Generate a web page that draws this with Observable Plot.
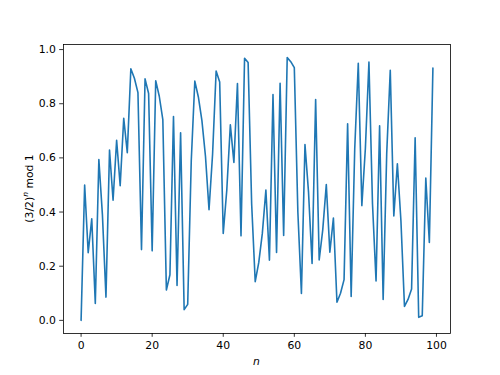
<!DOCTYPE html>
<html><head><meta charset="utf-8">
<script src="https://cdn.jsdelivr.net/npm/d3@7"></script>
<script src="https://cdn.jsdelivr.net/npm/@observablehq/plot@0.6"></script>
<style>
html,body{margin:0;padding:0;background:#fff}
#chart svg{font-family:"DejaVu Sans",sans-serif;}
</style>
</head><body><div id="chart"></div>
<script>
// (3/2)^n mod 1 for n = 0..99 (values read / checked against the picture)
const values = [
0.0000,0.5000,0.2500,0.3750,0.0625,0.5938,0.3906,0.0859,0.6289,0.4434,
0.6650,0.4976,0.7463,0.6195,0.9293,0.8939,0.8408,0.2613,0.8919,0.8378,
0.2567,0.8851,0.8276,0.7415,0.1122,0.1683,0.7524,0.1287,0.6930,0.0395,
0.0592,0.5888,0.8833,0.8249,0.7374,0.6060,0.4091,0.6136,0.9204,0.8806,
0.3209,0.4814,0.7221,0.5832,0.8748,0.3121,0.9682,0.9523,0.4285,0.1427,
0.2140,0.3211,0.4816,0.2224,0.8336,0.2504,0.8757,0.3135,0.9702,0.9553,
0.9330,0.3995,0.0993,0.6489,0.4734,0.2101,0.8152,0.2228,0.3342,0.5013,
0.2519,0.3779,0.0669,0.1003,0.1505,0.7257,0.0885,0.6328,0.9492,0.4238,
0.6357,0.9535,0.4303,0.1454,0.7182,0.0772,0.6158,0.9238,0.3857,0.5785,
0.3677,0.0516,0.0774,0.1161,0.6741,0.0112,0.0167,0.5251,0.2877,0.9315
];
const xTicks = [0, 20, 40, 60, 80, 100];
const yTicks = [0.0, 0.2, 0.4, 0.6, 0.8, 1.0];
const xLabel = "n";
const yLabelParts = ["(3/2)", "n", " mod 1"];

const data = values.map((v, i) => ({n: i, v}));

const svg = Plot.plot({
  width: 500, height: 375,
  marginLeft: 63, marginRight: 50, marginTop: 44, marginBottom: 42,
  style: {fontFamily: "DejaVu Sans", fontSize: "10.8px", color: "#000", background: "#fff"},
  x: {domain: [-4.95, 103.95]},
  y: {domain: [-0.0485, 1.0187]},
  marks: [
    Plot.line(data, {x: "n", y: "v", stroke: "#1f77b4", strokeWidth: 1.6}),
    Plot.frame({stroke: "#000", strokeWidth: 0.8}),
    Plot.axisX({ticks: xTicks, tickSize: 3.8, tickPadding: 3.8, strokeWidth: 0.8,
      tickFormat: d3.format("d"), label: null, fontSize: 10.8}),
    Plot.axisY({ticks: yTicks, tickSize: 3.8, tickPadding: 3.8, strokeWidth: 0.8,
      tickFormat: d3.format(".1f"), label: null, fontSize: 10.8})
  ]
});

const s = d3.select(svg);
s.append("text")
  .attr("x", 256.5).attr("y", 365)
  .attr("text-anchor", "middle")
  .attr("font-size", "10.8px").attr("font-style", "italic").attr("fill", "#000")
  .text(xLabel);

const yl = s.append("text")
  .attr("transform", "translate(32.5,188.5) rotate(-90)")
  .attr("text-anchor", "middle")
  .attr("font-size", "10.8px").attr("fill", "#000");
yl.append("tspan").text(yLabelParts[0]);
yl.append("tspan").attr("font-style", "italic").attr("font-size", "7.6px").attr("dy", "-4.5").text(yLabelParts[1]);
yl.append("tspan").attr("dy", "4.5").text(yLabelParts[2]);

document.getElementById("chart").appendChild(svg);
</script>
</body></html>
